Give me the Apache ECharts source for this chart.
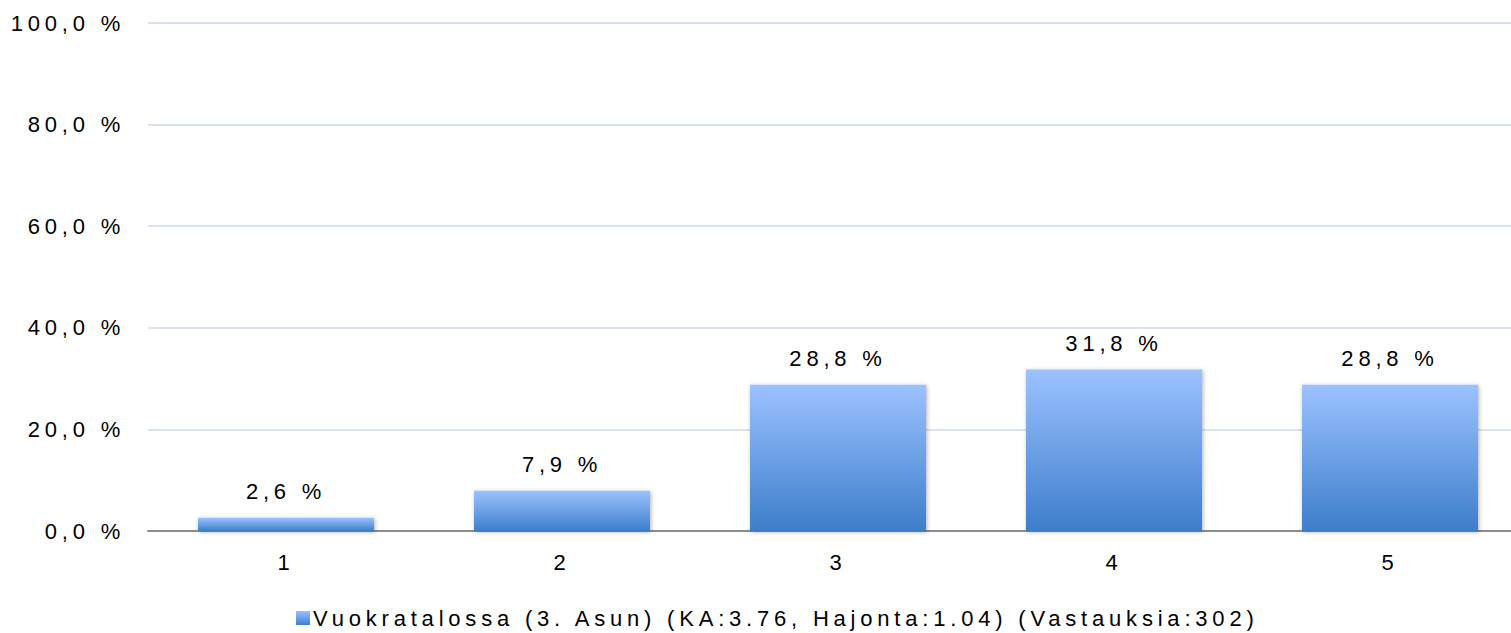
<!DOCTYPE html>
<html><head><meta charset="utf-8">
<script src="https://cdn.jsdelivr.net/npm/echarts@6/dist/echarts.min.js"></script>
<style>html,body{margin:0;padding:0;background:#fff}#c{width:1511px;height:633px}
#c svg text{letter-spacing:4.8px}</style>
</head><body><div id="c"></div>
<script>
const categories = ['1','2','3','4','5'];
const values = [2.6, 7.9, 28.8, 31.8, 28.8];
const seriesName = 'Vuokratalossa (3. Asun) (KA:3.76, Hajonta:1.04) (Vastauksia:302)';
const yTicks = [0, 20, 40, 60, 80, 100];

const FONT = 'Liberation Sans, Arial, sans-serif';
const fmt = v => v.toFixed(1).replace('.', ',') + ' %';
const grad = new echarts.graphic.LinearGradient(0, 0, 0, 1, [
  {offset: 0, color: '#9cc2ff'},
  {offset: 1, color: '#3d7ecb'}
]);
const chart = echarts.init(document.getElementById('c'), null, {renderer: 'svg'});
chart.setOption({
  animation: false,
  grid: {left: 148, top: 23, right: -17, bottom: 102, containLabel: false, outerBoundsMode: 'none'},
  legend: {
    top: 607, left: 296, padding: 0, itemWidth: 14, itemHeight: 14, itemGap: 3,
    textStyle: {fontFamily: FONT, fontSize: 22, color: '#000', padding: [0,0,0,-2]},
    data: [{name: seriesName, icon: 'rect'}]
  },
  xAxis: {
    type: 'category', data: categories,
    axisLine: {lineStyle: {color: '#8c8c8c', width: 2}},
    axisTick: {show: false},
    axisLabel: {fontFamily: FONT, fontSize: 22, color: '#000', margin: 20}
  },
  yAxis: {
    type: 'value', min: 0, max: 100, interval: 20,
    axisLine: {show: false}, axisTick: {show: false},
    splitLine: {lineStyle: {color: '#d9e3ef', width: 2}},
    axisLabel: {fontFamily: FONT, fontSize: 22, color: '#000', margin: 23,
      formatter: v => yTicks.includes(v) ? fmt(v) : ''}
  },
  series: [{
    name: seriesName, type: 'bar', data: values, barWidth: 176,
    itemStyle: {color: grad, shadowColor: 'rgba(0,0,0,0.3)', shadowBlur: 4, shadowOffsetX: 1, shadowOffsetY: 1},
    label: {show: true, position: 'top', distance: 15, fontFamily: FONT, fontSize: 22, color: '#000',
      formatter: p => fmt(p.value)}
  }]
});
</script></body></html>
